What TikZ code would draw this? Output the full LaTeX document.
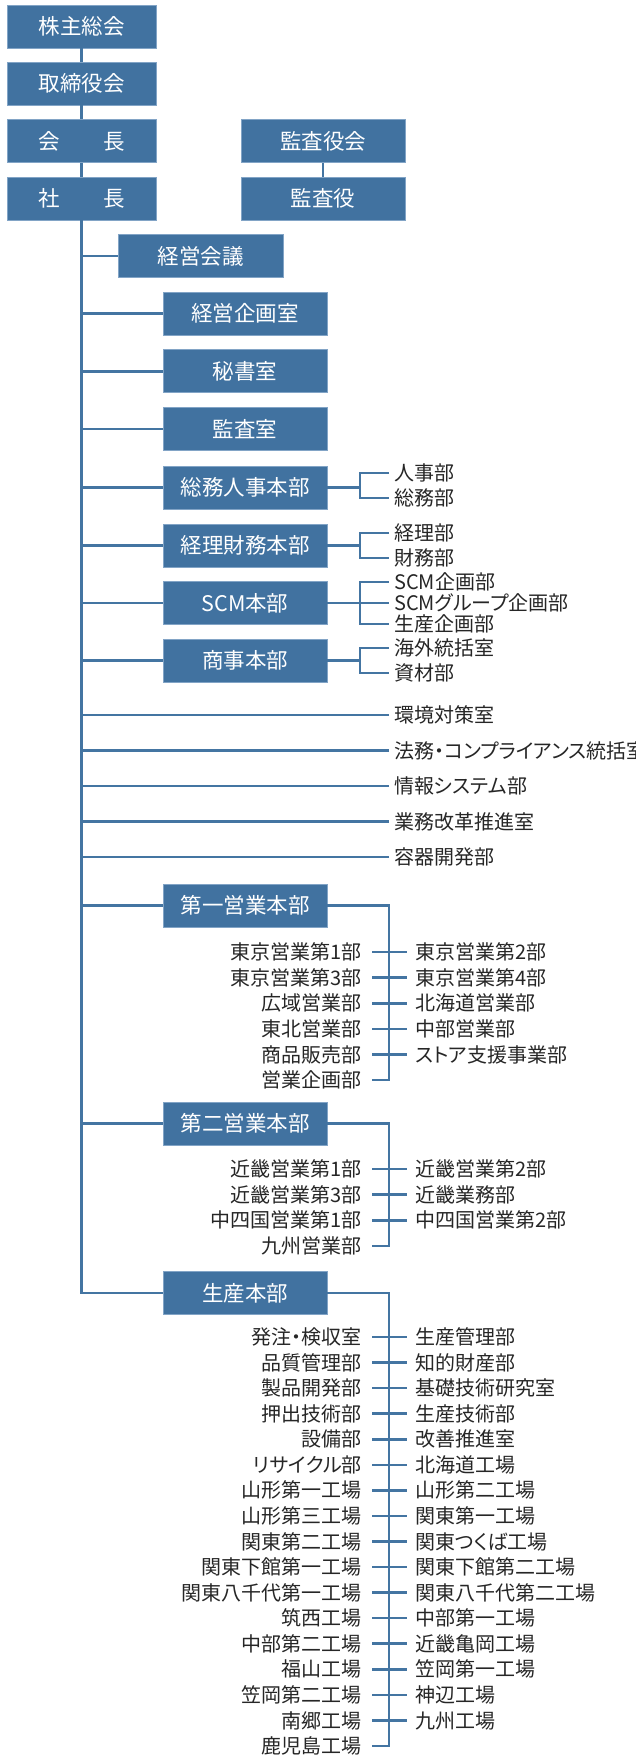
\documentclass[tikz,border=0pt]{standalone}
\usepackage{fontspec}
\setmainfont{Noto Sans CJK JP}[RawFeature={+palt}]
\definecolor{boxblue}{RGB}{65,114,160}
\definecolor{lineblue}{RGB}{68,117,162}
\definecolor{boxedge}{RGB}{130,164,198}
\definecolor{txt}{RGB}{38,38,38}
\begin{document}
\begin{tikzpicture}[x=1pt,y=-1pt,
  box/.style={fill=boxblue, draw=boxedge, line width=0.8pt, text=white, inner sep=0pt,
    minimum height=43pt, font=\fontsize{21.5}{24}\selectfont, text height=17.2pt, text depth=0.9pt},
  wbox/.style={minimum width=149pt},
  mbox/.style={minimum width=164pt},
  item/.style={text=txt, inner sep=0pt, font=\fontsize{20}{24}\selectfont, text height=16pt, text depth=0.8pt},
  conn/.style={draw=lineblue, line width=2.6pt}]
\useasboundingbox (0,0) rectangle (635,1755);

% top chain
\node[box,wbox] (kabu) at (81.5,26.5) {株主総会};
\node[box,wbox] (tori) at (81.5,83.5) {取締役会};
\node[box,wbox] (kaicho) at (81.5,141) {会\hspace{2em}長};
\node[box,wbox] (shacho) at (81.5,198.5) {社\hspace{2em}長};
\node[box,mbox] (kansakai) at (323,141) {監査役会};
\node[box,mbox] (kansayaku) at (323,198.5) {監査役};
\node[box,minimum width=165pt] (kaigi) at (200.5,256) {経営会議};

\draw[conn] (kabu) -- (tori);
\draw[conn] (tori) -- (kaicho);
\draw[conn] (kaicho) -- (shacho);
\draw[conn] (kansakai) -- (kansayaku);

% column boxes
\node[box,mbox] (kikaku) at (245,313.5) {経営企画室};
\node[box,mbox] (hisho) at (245,371.3) {秘書室};
\node[box,mbox] (kansa) at (245,429.1) {監査室};
\node[box,mbox] (soumu) at (245,487.5) {総務人事本部};
\node[box,mbox] (keiri) at (245,545.5) {経理財務本部};
\node[box,mbox] (scm) at (245,603) {SCM本部};
\node[box,mbox] (shoji) at (245,660.5) {商事本部};
\node[box,mbox] (eigyo1) at (245,905.5) {第一営業本部};
\node[box,mbox] (eigyo2) at (245,1123.5) {第二営業本部};
\node[box,mbox] (seisan) at (245,1293) {生産本部};

% main trunk
\draw[conn] (shacho.south) |- (seisan.west);
\foreach \n in {kaigi,kikaku,hisho,kansa,soumu,keiri,scm,shoji,eigyo1,eigyo2}
  \draw[conn] (\n.west) -- (\n.west -| shacho.south);

% sub items of honbu
\node[item,anchor=west] (jinji) at (394,473) {人事部};
\node[item,anchor=west] (soumubu) at (394,498) {総務部};
\node[item,anchor=west] (keiribu) at (394,533) {経理部};
\node[item,anchor=west] (zaimu) at (394,558) {財務部};
\node[item,anchor=west] (scmk) at (394,582) {SCM企画部};
\node[item,anchor=west] (scmg) at (394,603) {SCMグループ企画部};
\node[item,anchor=west] (seik) at (394,624) {生産企画部};
\node[item,anchor=west] (kaigai) at (394,648) {海外統括室};
\node[item,anchor=west] (shizai) at (394,673) {資材部};

\draw[conn] (soumu.east) -- ++(33,0);
\draw[conn] ([xshift=-5pt]jinji.west) -- ++(-29,0) |- ([xshift=-5pt]soumubu.west);
\draw[conn] (keiri.east) -- ++(33,0);
\draw[conn] ([xshift=-5pt]keiribu.west) -- ++(-29,0) |- ([xshift=-5pt]zaimu.west);
\draw[conn] (scm.east) -- ([xshift=-5pt]scmg.west);
\draw[conn] ([xshift=-5pt]scmk.west) -- ++(-29,0) |- ([xshift=-5pt]seik.west);
\draw[conn] (shoji.east) -- ++(33,0);
\draw[conn] ([xshift=-5pt]kaigai.west) -- ++(-29,0) |- ([xshift=-5pt]shizai.west);

% free items
\node[item,anchor=west] (kankyo) at (394,715) {環境対策室};
\node[item,anchor=west] (houmu) at (394,750.5) {法務・コンプライアンス統括室};
\node[item,anchor=west] (joho) at (394,786) {情報システム部};
\node[item,anchor=west] (gyomu) at (394,821.5) {業務改革推進室};
\node[item,anchor=west] (youki) at (394,857) {容器開発部};
\foreach \n in {kankyo,houmu,joho,gyomu,youki}
  \draw[conn] ([xshift=-5pt]\n.west) -- (\n.west -| shacho.south);

% sales 1
\foreach \t [count=\i] in {東京営業第1部,東京営業第3部,広域営業部,東北営業部,商品販売部,営業企画部}
  \node[item,anchor=east] (pa\i) at (362,{952+(\i-1)*25.6}) {\t};
\foreach \t [count=\i] in {東京営業第2部,東京営業第4部,北海道営業部,中部営業部,ストア支援事業部}
  \node[item,anchor=west] (pb\i) at (415,{952+(\i-1)*25.6}) {\t};
\draw[conn] (eigyo1.east) -| ([xshift=27pt]pa6.east) -- ([xshift=10pt]pa6.east);
\foreach \i in {1,...,5}
  \draw[conn] ([xshift=10pt]pa\i.east) -- ([xshift=-8pt]pb\i.west);

% sales 2
\foreach \t [count=\i] in {近畿営業第1部,近畿営業第3部,中四国営業第1部,九州営業部}
  \node[item,anchor=east] (qa\i) at (362,{1169+(\i-1)*25.6}) {\t};
\foreach \t [count=\i] in {近畿営業第2部,近畿業務部,中四国営業第2部}
  \node[item,anchor=west] (qb\i) at (415,{1169+(\i-1)*25.6}) {\t};
\draw[conn] (eigyo2.east) -| ([xshift=27pt]qa4.east) -- ([xshift=10pt]qa4.east);
\foreach \i in {1,...,3}
  \draw[conn] ([xshift=10pt]qa\i.east) -- ([xshift=-8pt]qb\i.west);

% production
\foreach \t [count=\i] in {発注・検収室,品質管理部,製品開発部,押出技術部,設備部,リサイクル部,山形第一工場,山形第三工場,関東第二工場,関東下館第一工場,関東八千代第一工場,筑西工場,中部第二工場,福山工場,笠岡第二工場,南郷工場,鹿児島工場}
  \node[item,anchor=east] (ra\i) at (362,{1337+(\i-1)*25.56}) {\t};
\foreach \t [count=\i] in {生産管理部,知的財産部,基礎技術研究室,生産技術部,改善推進室,北海道工場,山形第二工場,関東第一工場,関東つくば工場,関東下館第二工場,関東八千代第二工場,中部第一工場,近畿亀岡工場,笠岡第一工場,神辺工場,九州工場}
  \node[item,anchor=west] (rb\i) at (415,{1337+(\i-1)*25.56}) {\t};
\draw[conn] (seisan.east) -| ([xshift=27pt]ra17.east) -- ([xshift=10pt]ra17.east);
\foreach \i in {1,...,16}
  \draw[conn] ([xshift=10pt]ra\i.east) -- ([xshift=-8pt]rb\i.west);
\end{tikzpicture}
\end{document}
